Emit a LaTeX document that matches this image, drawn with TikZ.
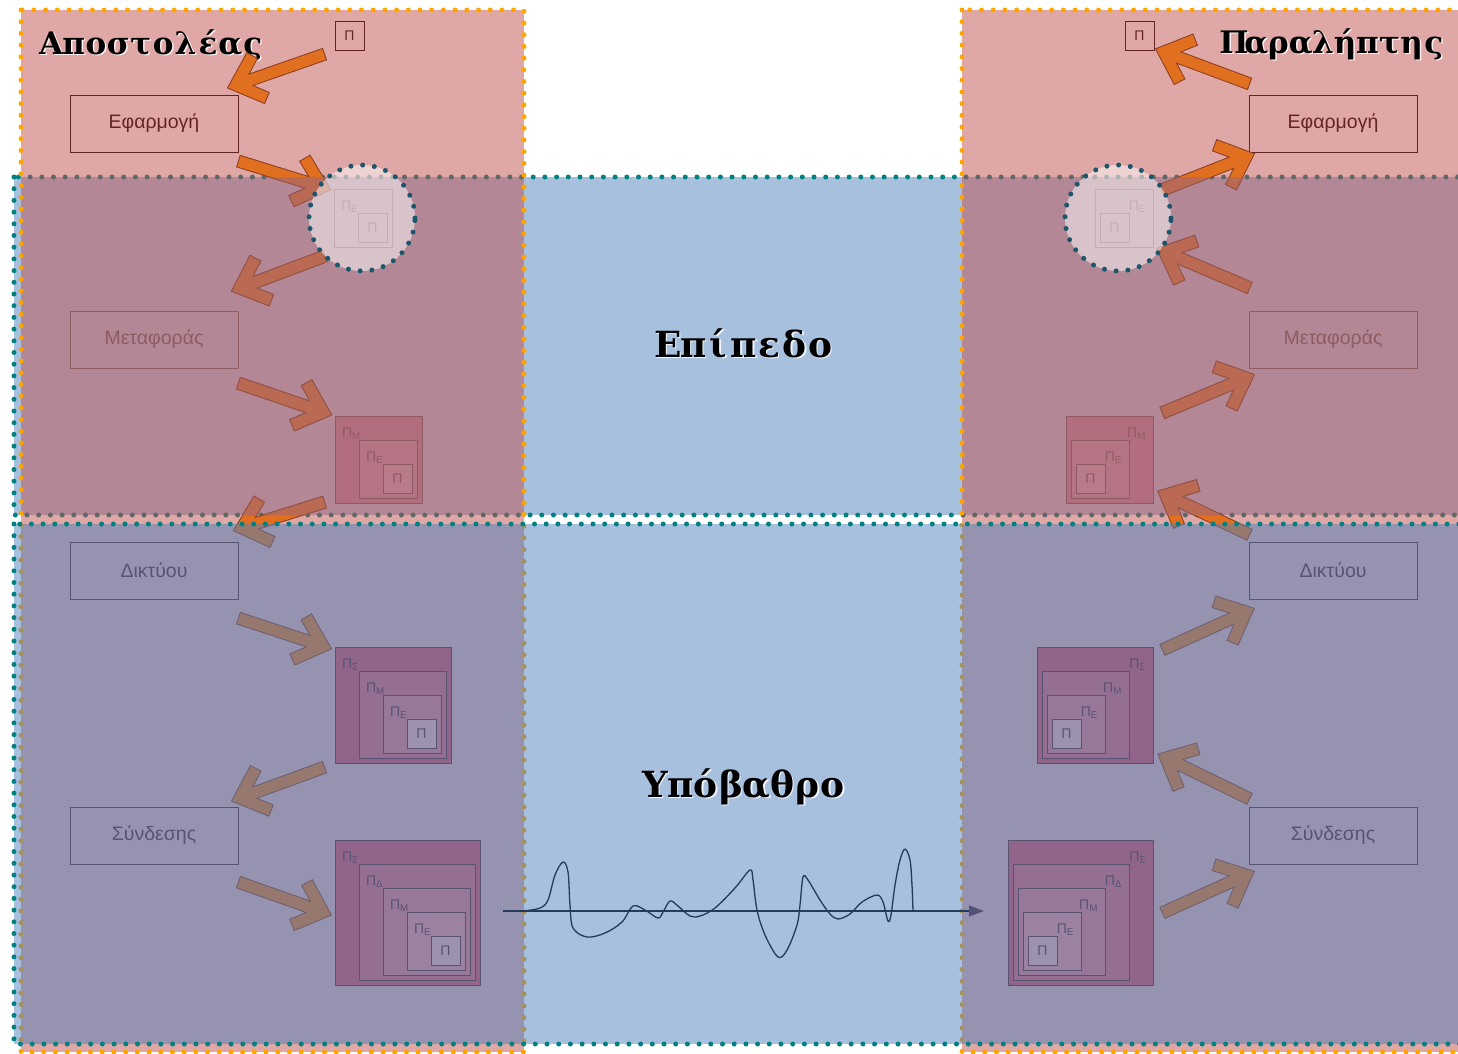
\documentclass[tikz,border=0pt]{standalone}
\usepackage{fontspec}
\setmainfont{Liberation Sans}
\newfontfamily\titlefont{DejaVu Serif}
\usetikzlibrary{calc,arrows.meta}

\ExplSyntaxOn
\NewDocumentCommand{\spaced}{mm}{ \tl_map_inline:nn {#2} { \makebox[#1][c]{##1} } }
\ExplSyntaxOff

\definecolor{hostred}{RGB}{192,80,77}
\definecolor{layerblue}{RGB}{79,129,189}
\definecolor{dotorange}{RGB}{255,165,0}
\definecolor{dotteal}{RGB}{0,128,128}
\definecolor{circteal}{RGB}{28,86,106}
\definecolor{darkred}{RGB}{99,37,35}
\definecolor{arrfill}{RGB}{224,112,32}
\definecolor{arredge}{RGB}{140,62,32}
\definecolor{mutefill}{RGB}{186,106,82}
\definecolor{muteedge}{RGB}{150,84,74}
\definecolor{mauve}{RGB}{180,136,150}
\definecolor{up0}{RGB}{176,78,98}
\definecolor{up1}{RGB}{182,92,110}
\definecolor{up2}{RGB}{188,108,122}
\definecolor{pk0}{RGB}{212,74,86}
\definecolor{pk1}{RGB}{220,94,102}
\definecolor{pk2}{RGB}{226,112,118}
\definecolor{pk3}{RGB}{232,132,134}
\definecolor{pk4}{RGB}{236,162,164}
\definecolor{wavecol}{RGB}{38,58,92}
\definecolor{tipcol}{RGB}{85,82,118}

\tikzset{
  orangedots/.style={draw=dotorange, line width=5, dash pattern=on 0pt off 11.7pt, line cap=round},
  tealdots/.style={draw=dotteal, line width=5, dash pattern=on 0pt off 11.7pt, line cap=round},
  layerbox/.style={draw=darkred, line width=1, minimum width=168, minimum height=57, inner sep=0, outer sep=0, text=darkred, font=\fontsize{19.5}{22}\selectfont},
  pkt/.style={draw=darkred, line width=1, inner sep=0, outer sep=0, anchor=north west},
  pktlbl/.style={inner sep=0, outer sep=0, text=darkred, font=\fontsize{14}{16}\selectfont},
  ttl/.style={inner sep=0, outer sep=0, font=\titlefont\bfseries\fontsize{31}{34}\selectfont, text=black},
  ttlshadow/.style={ttl, text=white, text opacity=0.85},
  bigttl/.style={inner sep=0, outer sep=0, font=\titlefont\bfseries\fontsize{36}{40}\selectfont, text=black},
  bigttlshadow/.style={bigttl, text=white, text opacity=0.85},
  circdots/.style={circle, minimum size=106, inner sep=0, fill=white, fill opacity=0.5, draw=circteal, line width=5, dash pattern=on 0pt off 11.8pt, line cap=round},
}

% fat arrow: #1 start, #2 tip, #3 edge colour, #4 fill colour
\newcommand{\fatarrowc}[4]{%
  \draw[draw=#3, line width=13, line join=miter, line cap=butt]
     (#1) -- (#2) ($(#2)!34pt!42:(#1)$) -- (#2) -- ($(#2)!34pt!-42:(#1)$);
  \draw[draw=#4, line width=11, line join=miter, line cap=butt]
     ($(#1)!1pt!(#2)$) -- (#2) ($(#2)!33pt!42:(#1)$) -- (#2) -- ($(#2)!33pt!-42:(#1)$);
}
\newcommand{\allarrows}[2]{%
\fatarrowc{a1s}{a1t}{#1}{#2}\fatarrowc{a2s}{a2t}{#1}{#2}\fatarrowc{a3s}{a3t}{#1}{#2}\fatarrowc{a4s}{a4t}{#1}{#2}%
\fatarrowc{a5s}{a5t}{#1}{#2}\fatarrowc{a6s}{a6t}{#1}{#2}\fatarrowc{a7s}{a7t}{#1}{#2}\fatarrowc{a8s}{a8t}{#1}{#2}%
\fatarrowc{b1s}{b1t}{#1}{#2}\fatarrowc{b2s}{b2t}{#1}{#2}\fatarrowc{b3s}{b3t}{#1}{#2}\fatarrowc{b4s}{b4t}{#1}{#2}%
\fatarrowc{b5s}{b5t}{#1}{#2}\fatarrowc{b6s}{b6t}{#1}{#2}\fatarrowc{b7s}{b7t}{#1}{#2}\fatarrowc{b8s}{b8t}{#1}{#2}}
% packet box: name, x, y, size, fill
\newcommand{\pk}[5]{\node[pkt, fill=#5, minimum width=#4, minimum height=#4] (#1) at (#2,#3) {};}
\newcommand{\lblL}[2]{\node[pktlbl, anchor=base west] at ($(#1.north west)+(7,21)$) {Π\textsubscript{#2}};}
\newcommand{\lblR}[2]{\node[pktlbl, anchor=base east] at ($(#1.north east)+(-7,21)$) {Π\textsubscript{#2}};}
\newcommand{\lblC}[1]{\node[pktlbl] at (#1.center) {Π};}

\begin{document}
\begin{tikzpicture}[x=1pt,y=-1pt]
\useasboundingbox (0,0) rectangle (1458,1053);
\clip (0,0) rectangle (1458,1053);

% ---- upper layer (under hosts)
\fill[layerblue, opacity=0.5] (14,177) rectangle (1480,515);
\draw[tealdots] (14,177) rectangle (1480,515);

% ---- hosts
\fill[hostred, opacity=0.5] (21,10) rectangle (524,1052);
\fill[hostred, opacity=0.5] (962,10) rectangle (1480,1052);
\draw[orangedots] (21,10) rectangle (524,1052);
\draw[orangedots] (962,10) rectangle (1480,1052);

% ---- host titles
\node[ttlshadow, anchor=base west] at (41.5,55.5) {\spaced{22.4pt}{Αποστολέας}};
\node[ttl, anchor=base west] (sender) at (40,54) {\spaced{22.4pt}{Αποστολέας}};
\node[ttlshadow, anchor=base east] at (1446.5,54.5) {\spaced{22.2pt}{Παραλήπτης}};
\node[ttl, anchor=base east] (receiver) at (1445,53) {\spaced{22.2pt}{Παραλήπτης}};

% ---- layer boxes
\node[layerbox] (L1) at (154,123.5) {Εφαρμογή};
\node[layerbox] (L2) at (154,339.5) {Μεταφοράς};
\node[layerbox] (L3) at (154,570.5) {Δικτύου};
\node[layerbox] (L4) at (154,835.5) {Σύνδεσης};
\node[layerbox] (R1) at (1333,123.5) {Εφαρμογή};
\node[layerbox] (R2) at (1333,339.5) {Μεταφοράς};
\node[layerbox] (R3) at (1333,570.5) {Δικτύου};
\node[layerbox] (R4) at (1333,835.5) {Σύνδεσης};

% ---- packets, left
\pk{L0P}{335}{21}{29}{none}\lblC{L0P}
\pk{LcE}{334}{189}{58}{none}\lblL{LcE}{Ε}
\pk{LcP}{358}{213}{29}{none}\lblC{LcP}
\pk{L2M}{335}{416}{87}{up0}\lblL{L2M}{Μ}
\pk{L2E}{359}{440}{58}{up1}\lblL{L2E}{Ε}
\pk{L2P}{383}{464}{29}{up2}\lblC{L2P}
\pk{L3S}{335}{647}{116}{pk0}\lblL{L3S}{Σ}
\pk{L3M}{359}{671}{87}{pk1}\lblL{L3M}{Μ}
\pk{L3E}{383}{695}{58}{pk2}\lblL{L3E}{Ε}
\pk{L3P}{407}{719}{29}{pk4}\lblC{L3P}
\pk{L4S}{335}{840}{145}{pk0}\lblL{L4S}{Σ}
\pk{L4D}{359}{864}{116}{pk1}\lblL{L4D}{Δ}
\pk{L4M}{383}{888}{87}{pk2}\lblL{L4M}{Μ}
\pk{L4E}{407}{912}{58}{pk3}\lblL{L4E}{Ε}
\pk{L4P}{431}{936}{29}{pk4}\lblC{L4P}

% ---- packets, right
\pk{R0P}{1125}{21}{29}{none}\lblC{R0P}
\pk{RcE}{1095}{189}{58}{none}\lblR{RcE}{Ε}
\pk{RcP}{1100}{213}{29}{none}\lblC{RcP}
\pk{R2M}{1066}{416}{87}{up0}\lblR{R2M}{Μ}
\pk{R2E}{1071}{440}{58}{up1}\lblR{R2E}{Ε}
\pk{R2P}{1076}{464}{29}{up2}\lblC{R2P}
\pk{R3S}{1037}{647}{116}{pk0}\lblR{R3S}{Σ}
\pk{R3M}{1042}{671}{87}{pk1}\lblR{R3M}{Μ}
\pk{R3E}{1047}{695}{58}{pk2}\lblR{R3E}{Ε}
\pk{R3P}{1052}{719}{29}{pk4}\lblC{R3P}
\pk{R4S}{1008}{840}{145}{pk0}\lblR{R4S}{Σ}
\pk{R4D}{1013}{864}{116}{pk1}\lblR{R4D}{Δ}
\pk{R4M}{1018}{888}{87}{pk2}\lblR{R4M}{Μ}
\pk{R4E}{1023}{912}{58}{pk3}\lblR{R4E}{Ε}
\pk{R4P}{1028}{936}{29}{pk4}\lblC{R4P}

% ---- mute the upper layer inside the hosts
\fill[mauve, opacity=0.55] (24,180) rectangle (521,512);
\fill[mauve, opacity=0.55] (965,180) rectangle (1480,512);

% ---- arrow end points
\coordinate (a1s) at (325,54);   \coordinate (a1t) at (236,85);
\coordinate (a2s) at (238,161);  \coordinate (a2t) at (322,187);
\coordinate (a3s) at (325,256);  \coordinate (a3t) at (240,288);
\coordinate (a4s) at (238,383);  \coordinate (a4t) at (323,412);
\coordinate (a5s) at (325,502);  \coordinate (a5t) at (242,528);
\coordinate (a6s) at (238,618);  \coordinate (a6t) at (323,646);
\coordinate (a7s) at (325,767);  \coordinate (a7t) at (240,798);
\coordinate (a8s) at (238,882);  \coordinate (a8t) at (323,912);
\coordinate (b1s) at (1250,84);  \coordinate (b1t) at (1164,52);
\coordinate (b2s) at (1162,190); \coordinate (b2t) at (1246,157);
\coordinate (b3s) at (1250,288); \coordinate (b3t) at (1165,252);
\coordinate (b4s) at (1162,413); \coordinate (b4t) at (1246,378);
\coordinate (b5s) at (1250,535); \coordinate (b5t) at (1166,495);
\coordinate (b6s) at (1162,650); \coordinate (b6t) at (1246,612);
\coordinate (b7s) at (1250,799); \coordinate (b7t) at (1166,758);
\coordinate (b8s) at (1162,913); \coordinate (b8t) at (1246,875);

% ---- arrows: bright, then muted inside the upper layer of each host
\allarrows{arredge}{arrfill}
\begin{scope}
  \clip (21,177) rectangle (524,515) (962,177) rectangle (1480,515);
  \allarrows{muteedge}{mutefill}
\end{scope}

% ---- encapsulation circles
\node[circdots] (Lcirc) at (362,218) {};
\node[circdots] (Rcirc) at (1118,218) {};

% ---- lower layer (over hosts)
\fill[layerblue, opacity=0.5] (14,524) rectangle (1480,1044);
\draw[tealdots] (14,524) rectangle (1480,1044);

% ---- layer titles
\node[bigttlshadow, anchor=base] at (745.5,358.5) {\spaced{25.4pt}{Επίπεδο}};
\node[bigttl, anchor=base] (lay1) at (744,357) {\spaced{25.4pt}{Επίπεδο}};
\node[bigttlshadow, anchor=base] at (745.5,798.5) {\spaced{25.4pt}{Υπόβαθρο}};
\node[bigttl, anchor=base] (lay2) at (744,797) {\spaced{25.4pt}{Υπόβαθρο}};

% ---- signal
\coordinate (sigstart) at (503,911);
\coordinate (sigend) at (984,911);
\draw[wavecol, line width=1.2, -{Triangle[length=15pt,width=11pt,color=tipcol]}] (sigstart) -- (sigend);
\draw[wavecol, line width=1.3, line join=round] plot[smooth, tension=0.55] coordinates {
 (523,911) (540,908) (548,900) (555,875) (563,862) (568,872) (570,905) (573,928)
 (587,937) (605,933) (622,922) (633,906) (645,910) (658,918) (663,912) (670,901)
 (678,906) (690,916) (700,916) (715,908) (735,888) (750,870) (753,880) (757,910)
 (765,935) (778,957) (787,950) (797,925) (800,905) (803,877) (808,880) (820,900)
 (830,914) (838,919) (850,914) (862,902) (877,895) (883,902) (888,921) (891,915)
 (895,885) (900,860) (905,849) (910,860) (912,885) (913,911)};
\end{tikzpicture}
\end{document}
